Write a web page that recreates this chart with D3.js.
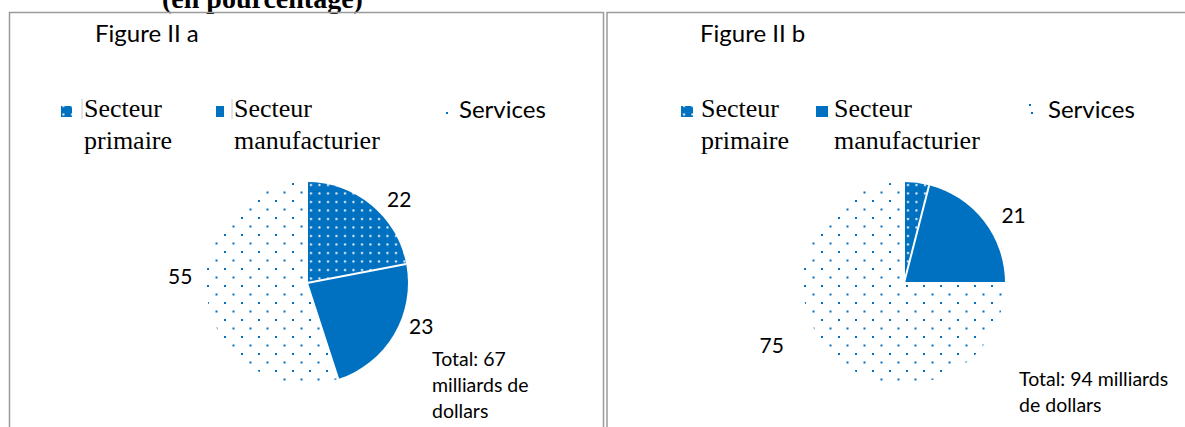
<!DOCTYPE html>
<html>
<head>
<meta charset="utf-8">
<title>Figure II</title>
<script src="https://d3js.org/d3.v7.js"></script>
<style>
  body { margin: 0; background: #fff; }
  .sans { font-family: Lato, "Open Sans", sans-serif; fill: #000; }
  .serif { font-family: "Liberation Serif", "Times New Roman", serif; fill: #000; }
</style>
</head>
<body>
<div id="chart"></div>
<script>
// data
var categories = ["Secteur primaire", "Secteur manufacturier", "Services"];
var valuesA = [22, 23, 55];
var valuesB = [4, 21, 75];
var showLabelA = [true, true, true];
var showLabelB = [false, true, true];
var totalA = ["Total: 67", "milliards de", "dollars"];
var totalB = ["Total: 94 milliards", "de dollars"];

var blue = "#0070C0";
var W = 1185, H = 427;

var svg = d3.select("#chart").append("svg")
  .attr("width", W).attr("height", H);

// patterns
var defs = svg.append("defs");
var pp = defs.append("pattern").attr("id", "pPrim")
  .attr("patternUnits", "userSpaceOnUse").attr("width", 8.5).attr("height", 8.5);
pp.append("rect").attr("width", 8.5).attr("height", 8.5).attr("fill", blue);
pp.append("rect").attr("x", 3).attr("y", 3).attr("width", 2).attr("height", 2).attr("fill", "#fff");

var ps = defs.append("pattern").attr("id", "pServ")
  .attr("patternUnits", "userSpaceOnUse").attr("width", 17).attr("height", 17);
ps.append("rect").attr("width", 17).attr("height", 17).attr("fill", "#fff");
ps.append("rect").attr("x", 2).attr("y", 2).attr("width", 2).attr("height", 2).attr("fill", blue);
ps.append("rect").attr("x", 10.5).attr("y", 10.5).attr("width", 2).attr("height", 2).attr("fill", blue);

var fills = ["url(#pPrim)", blue, "url(#pServ)"];

// title (cut at top)
svg.append("text").attr("class", "serif")
  .attr("x", 162).attr("y", 8)
  .style("font-size", "28px").style("font-weight", "bold")
  .text("(en pourcentage)");

// panel frames
var frame = svg.append("g").attr("fill", "none").attr("stroke", "#9a9a9a").attr("stroke-width", 1.5);
frame.append("path").attr("d", "M9.5,430V12.5H603.5V430");
frame.append("path").attr("d", "M607,430V12.5H1190");

var pie = d3.pie().sort(null).value(function(d) { return d; });
var r = 101;
var arc = d3.arc().innerRadius(0).outerRadius(r);

function drawPanel(opt) {
  var g = svg.append("g");

  g.append("text").attr("class", "sans")
    .attr("x", opt.titleX).attr("y", 42)
    .style("font-size", "24px")
    .text(opt.title);

  // legend
  opt.legend.forEach(function(l, i) {
    if (i < 2) {
      g.append("rect").attr("x", l.mx).attr("y", 106)
        .attr("width", l.mw).attr("height", 11)
        .attr("fill", fills[i]);
      if (l.bar) {
        g.append("line").attr("x1", l.tx - 2).attr("x2", l.tx - 2)
          .attr("y1", 99).attr("y2", 119)
          .attr("stroke", "#c8c8c8").attr("stroke-width", 1);
      }
      var words = categories[i].split(" ");
      var t = g.append("text").attr("class", "serif")
        .attr("x", l.tx).attr("y", 117).style("font-size", "26px");
      t.append("tspan").attr("x", l.tx).text(words[0]);
      t.append("tspan").attr("x", l.tx).attr("dy", 32).text(words[1]);
    } else {
      g.append("rect").attr("x", l.mx).attr("y", 112)
        .attr("width", 2).attr("height", 2).attr("fill", blue);
      if (l.bar) {
        g.append("rect").attr("x", l.mx - 2).attr("y", 104)
          .attr("width", 2).attr("height", 2).attr("fill", blue);
      }
      g.append("text").attr("class", "sans")
        .attr("x", l.tx).attr("y", 118).style("font-size", "24px")
        .text(categories[i]);
    }
  });

  // pie
  var pg = g.append("g").attr("transform", "translate(" + opt.cx + "," + opt.cy + ")");
  var arcs = pie(opt.values);
  pg.selectAll("path").data(arcs).enter().append("path")
    .attr("d", arc)
    .attr("fill", function(d, i) { return fills[i]; });
  // white separators
  pg.selectAll("line").data(arcs).enter().append("line")
    .attr("x1", 0).attr("y1", 0)
    .attr("x2", function(d) { return r * Math.sin(d.startAngle); })
    .attr("y2", function(d) { return -r * Math.cos(d.startAngle); })
    .attr("stroke", "#fff").attr("stroke-width", 2);

  // labels, slightly nudged like the original
  function lblAngle(d) {
    return (d.startAngle + d.endAngle) / 2 + opt.shift[d.index] * Math.PI / 180;
  }
  pg.selectAll("text.lbl").data(arcs.filter(function(d) { return opt.show[d.index]; }))
    .enter().append("text").attr("class", "sans lbl")
    .attr("text-anchor", "middle")
    .style("font-size", "21px")
    .attr("x", function(d) { return opt.lr[d.index] * Math.sin(lblAngle(d)); })
    .attr("y", function(d) { return -opt.lr[d.index] * Math.cos(lblAngle(d)) + 8; })
    .text(function(d) { return d.data; });

  // total note
  var tt = g.append("text").attr("class", "sans")
    .attr("x", opt.totX).attr("y", opt.totY).style("font-size", "19.5px");
  opt.total.forEach(function(s, i) {
    tt.append("tspan").attr("x", opt.totX).attr("dy", i ? 26 : 0).text(s);
  });
}

drawPanel({
  title: "Figure II a", titleX: 95,
  legend: [{mx: 61, mw: 11, tx: 84, bar: true}, {mx: 216, mw: 8, tx: 234, bar: true}, {mx: 446, tx: 459}],
  cx: 307, cy: 283, values: valuesA, show: showLabelA,
  shift: [8, -10, 12], lr: [125, 122, 127],
  total: totalA, totX: 432, totY: 366
});

drawPanel({
  title: "Figure II b", titleX: 700,
  legend: [{mx: 681, mw: 12, tx: 701}, {mx: 816, mw: 12, tx: 834}, {mx: 1031, tx: 1048, bar: true}],
  cx: 904, cy: 283, values: valuesB, show: showLabelB,
  shift: [0, 6, 20], lr: [125, 129, 146],
  total: totalB, totX: 1019, totY: 386
});
</script>
</body>
</html>
